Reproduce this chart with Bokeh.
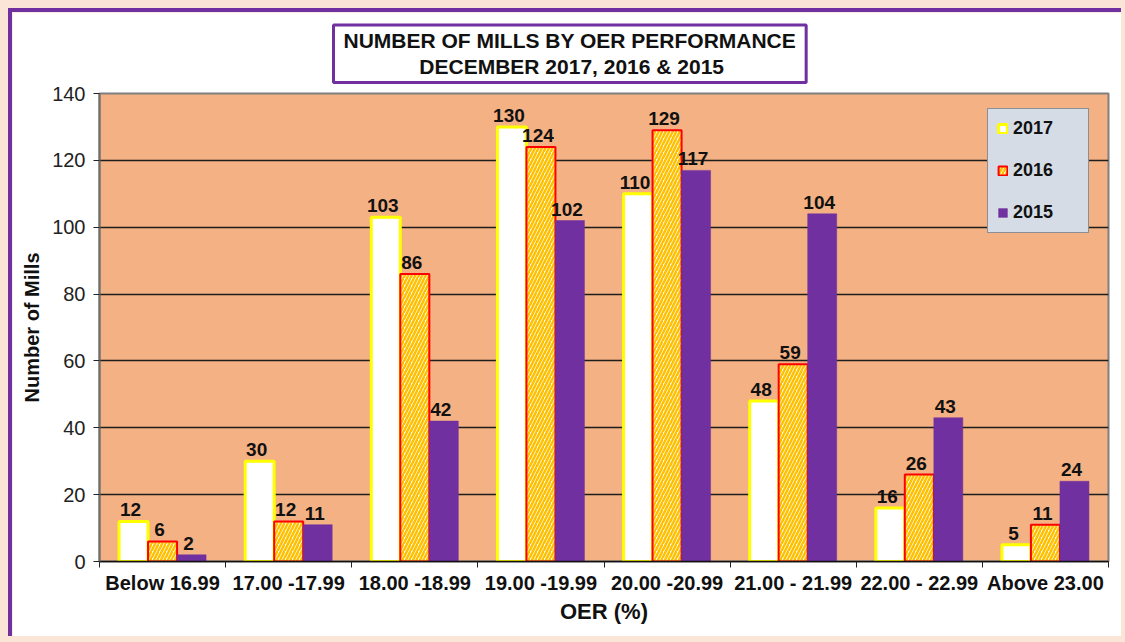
import numpy as np
from bokeh.plotting import figure
from bokeh.models import (Range1d, FixedTicker, Legend, Title, ColumnDataSource)
from bokeh.core.properties import value
from bokeh.embed import file_html
from bokeh.resources import INLINE

categories = ["Below 16.99", "17.00 -17.99", "18.00 -18.99", "19.00 -19.99",
              "20.00 -20.99", "21.00 - 21.99", "22.00 - 22.99", "Above 23.00"]
v2017 = [12, 30, 103, 130, 110, 48, 16, 5]
v2016 = [6, 12, 86, 124, 129, 59, 26, 11]
v2015 = [2, 11, 42, 102, 117, 104, 43, 24]
y_ticks = [0, 20, 40, 60, 80, 100, 120, 140]
title_lines = ["NUMBER OF MILLS BY OER PERFORMANCE", "DECEMBER 2017, 2016 & 2015"]

FONTNAME = "Liberation Sans"
FONT = value(FONTNAME)
PURPLE = "#7030A0"
W, H = 1113, 628

p = figure(width=W, height=H, output_backend="svg", toolbar_location=None,
           x_range=Range1d(0, len(categories)), y_range=Range1d(0, 140),
           min_border_left=87, min_border_right=17, min_border_top=81, min_border_bottom=79)
p.styles = {"border-top": "4px solid " + PURPLE, "border-left": "4px solid " + PURPLE}
p.background_fill_color = "#F4B183"
p.border_fill_color = "white"
p.outline_line_color = "#7F7F7F"
p.outline_line_width = 2

centers = np.arange(len(categories)) + 0.5
bw = 0.23
x17 = centers - bw
x16 = centers
x15 = centers + bw

r17 = p.vbar(x=x17, top=v2017, width=bw, fill_color="white", line_color="#FFFF00", line_width=3)
r16 = p.vbar(x=x16, top=v2016, width=bw, fill_color="white", line_color="#FF0000", line_width=2,
             hatch_pattern="/", hatch_color="#FFC000", hatch_scale=7, hatch_weight=2.5)
r15 = p.vbar(x=x15, top=v2015, width=bw, fill_color=PURPLE, line_color=PURPLE, line_width=0.5)

for xs, vs in ((x17, v2017), (x16, v2016), (x15, v2015)):
    src = ColumnDataSource(dict(x=xs, y=vs, t=[str(v) for v in vs]))
    p.text(x="x", y="y", text="t", source=src, text_align="center", text_baseline="bottom",
           y_offset=-5, x_offset=-3, text_font=FONT, text_font_style="bold",
           text_font_size="19px", text_color="#111111")

p.xaxis.ticker = FixedTicker(ticks=list(centers), minor_ticks=list(range(len(categories) + 1)))
p.xaxis.major_label_overrides = {float(c): lab for c, lab in zip(centers, categories)}
p.xaxis.major_tick_line_color = None
p.xaxis.major_tick_out = 0
p.xaxis.major_tick_in = 0
p.xaxis.minor_tick_line_color = "#222222"
p.xaxis.minor_tick_out = 6
p.xaxis.minor_tick_in = 0
p.xaxis.axis_line_color = "#111111"
p.xaxis.axis_line_width = 1.5
p.xaxis.major_label_text_font = FONTNAME
p.xaxis.major_label_text_font_style = "bold"
p.xaxis.major_label_text_font_size = "20px"
p.xaxis.major_label_text_color = "#111111"
p.xaxis.major_label_standoff = 4
p.xaxis.axis_label = "OER (%)"
p.xaxis.axis_label_text_font = FONTNAME
p.xaxis.axis_label_text_font_style = "bold"
p.xaxis.axis_label_text_font_size = "22px"
p.xaxis.axis_label_text_color = "#111111"
p.xaxis.axis_label_standoff = 2

p.yaxis.ticker = FixedTicker(ticks=y_ticks)
p.yaxis.minor_tick_line_color = None
p.yaxis.major_tick_out = 6
p.yaxis.major_tick_in = 0
p.yaxis.major_tick_line_color = "#222222"
p.yaxis.axis_line_color = "#6F6F6F"
p.yaxis.axis_line_width = 2
p.yaxis.major_label_text_font = FONTNAME
p.yaxis.major_label_text_font_size = "20px"
p.yaxis.major_label_text_color = "#222222"
p.yaxis.major_label_standoff = 8
p.yaxis.axis_label = "Number of Mills"
p.yaxis.axis_label_text_font = FONTNAME
p.yaxis.axis_label_text_font_style = "bold"
p.yaxis.axis_label_text_font_size = "20px"
p.yaxis.axis_label_text_color = "#111111"
p.yaxis.axis_label_standoff = 6

p.xgrid.grid_line_color = None
p.ygrid.grid_line_color = "#1E1E1E"
p.ygrid.grid_line_width = 1.3
p.ygrid.ticker = FixedTicker(ticks=y_ticks)

legend = Legend(items=[("2017", [r17]), ("2016", [r16]), ("2015", [r15])], location=(888, 328))
legend.background_fill_color = "#D6DCE5"
legend.background_fill_alpha = 1
legend.border_line_color = "#404040"
legend.border_line_width = 1.5
legend.label_text_font = FONTNAME
legend.label_text_font_style = "bold"
legend.label_text_font_size = "18px"
legend.label_text_color = "#111111"
legend.glyph_width = 11
legend.glyph_height = 11
legend.label_height = 20
legend.spacing = 21
legend.padding = 9
legend.margin = 0
legend.label_standoff = 5
legend.label_width = 66
p.add_layout(legend)

# boxed title placed left-aligned with an offset; second line centred with no-break spaces
title_text = title_lines[0] + "\n" + "\u00a0" * 13 + title_lines[1]
p.title = Title(text=title_text, align="left", offset=234, standoff=22,
                text_font=FONTNAME, text_font_style="bold", text_font_size="21px",
                text_color="#111111", text_line_height=1.15,
                background_fill_color="white", border_line_color=PURPLE, border_line_width=3,
                padding=(10, 4))

html = file_html(p, INLINE)
style = ("<style>html{background:#FBE5D6 !important;} "
         "body{margin:8px 0 0 8px !important;background:#FBE5D6 !important;overflow:hidden;}</style>")
html = html.replace("</head>", style + "</head>", 1)
open("out.html", "w").write(html)
